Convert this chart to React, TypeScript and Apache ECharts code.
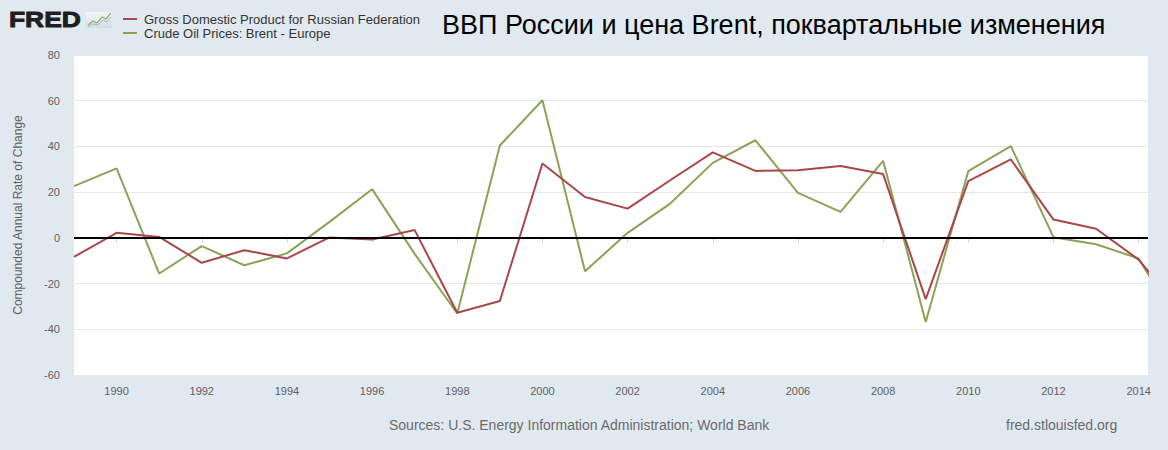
import React, { useEffect, useRef } from "react";
import * as echarts from "echarts";

const years = [
  1989, 1990, 1991, 1992, 1993, 1994, 1995, 1996, 1997, 1998, 1999, 2000, 2001,
  2002, 2003, 2004, 2005, 2006, 2007, 2008, 2009, 2010, 2011, 2012, 2013, 2014, 2015,
];
const gdpRussia = [
  -8.3, 2.2, 0.4, -10.9, -5.4, -9.0, 0.2, -0.7, 3.4, -32.8, -27.6, 32.5, 17.9,
  12.8, 25.2, 37.4, 29.3, 29.6, 31.4, 27.9, -26.8, 24.8, 34.3, 8.0, 4.0, -9.5, -32,
];
const brent = [
  22.6, 30.4, -15.6, -3.6, -12.0, -6.8, 7.0, 21.3, -7.0, -33.1, 40.4, 60.2, -14.6,
  2.2, 15.0, 32.8, 42.7, 19.7, 11.4, 33.7, -36.8, 29.2, 40.1, 0.3, -2.8, -9.0, -40,
];
const xLabelYears = [1990, 1992, 1994, 1996, 1998, 2000, 2002, 2004, 2006, 2008, 2010, 2012, 2014];
const seriesNames = [
  "Gross Domestic Product for Russian Federation",
  "Crude Oil Prices: Brent - Europe",
];
const titleText = "ВВП России и цена Brent, поквартальные изменения";
const yAxisTitle = "Compounded Annual Rate of Change";
const sourceText = "Sources: U.S. Energy Information Administration; World Bank";
const siteText = "fred.stlouisfed.org";

const RED = "#a8474a";
const GREEN = "#8aa356";
const FONT = "Arial, 'Liberation Sans', sans-serif";

export default function App() {
  const ref = useRef<HTMLDivElement>(null);
  useEffect(() => {
    const chart = echarts.init(ref.current!, null, { renderer: "svg" });
    chart.setOption({
      animation: false,
      backgroundColor: "#e1e9f0",
      textStyle: { fontFamily: FONT },
      grid: {
        left: 74,
        right: 20,
        top: 55,
        bottom: 75,
        show: true,
        backgroundColor: "#ffffff",
        borderWidth: 0,
      },
      xAxis: {
        type: "value",
        min: 1989,
        max: 2014.22,
        axisLine: { show: true, lineStyle: { color: "#ccd6eb", width: 1 } },
        axisTick: {
          show: true,
          customValues: xLabelYears,
          length: 5,
          lineStyle: { color: "#ccd6eb" },
        },
        axisLabel: {
          customValues: xLabelYears,
          formatter: (v: number) => String(v),
          color: "#606060",
          fontSize: 11,
          margin: 10,
          fontFamily: FONT,
        },
        splitLine: { show: false },
      },
      yAxis: {
        type: "value",
        min: -60,
        max: 80,
        interval: 20,
        name: yAxisTitle,
        nameLocation: "middle",
        nameGap: 50,
        nameTextStyle: { color: "#606060", fontSize: 12, fontFamily: FONT },
        axisLine: { show: false },
        axisTick: { show: false },
        axisLabel: { color: "#606060", fontSize: 11, margin: 14, fontFamily: FONT },
        splitLine: { lineStyle: { color: "#e6e6e6", width: 1 } },
      },
      series: [
        {
          name: seriesNames[0],
          type: "line",
          data: years.map((y, i) => [y, gdpRussia[i]]),
          symbol: "none",
          clip: true,
          lineStyle: { color: RED, width: 2 },
          itemStyle: { color: RED },
          z: 3,
          markLine: {
            silent: true,
            symbol: ["none", "none"],
            label: { show: false },
            lineStyle: { color: "#000000", width: 2, type: "solid" },
            data: [{ yAxis: 0 }],
          },
        },
        {
          name: seriesNames[1],
          type: "line",
          data: years.map((y, i) => [y, brent[i]]),
          symbol: "none",
          clip: true,
          lineStyle: { color: GREEN, width: 2 },
          itemStyle: { color: GREEN },
          z: 2,
        },
      ],
      graphic: [
        {
          type: "text",
          x: 9,
          y: 8,
          scaleX: 1.2,
          style: {
            text: "FRED",
            fontSize: 22,
            fontWeight: 900,
            fontFamily: FONT,
            fill: "#1e1e1e",
            stroke: "#1e1e1e",
            lineWidth: 0.9,
          },
        },
        {
          type: "rect",
          shape: { x: 86, y: 12, width: 26, height: 16 },
          style: {
            fill: new echarts.graphic.LinearGradient(0, 0, 0, 1, [
              { offset: 0, color: "#f3f6f8" },
              { offset: 1, color: "#d3dce2" },
            ]),
          },
        },
        {
          type: "polyline",
          shape: { points: [[88, 25], [93, 21], [97, 23], [102, 17], [106, 19], [111, 13]] },
          style: { stroke: "#8fb36a", lineWidth: 1.2, fill: "none" },
        },
        {
          type: "polyline",
          shape: { points: [[88, 27], [93, 24], [98, 25], [103, 20], [107, 22], [111, 17]] },
          style: { stroke: "#9ab8cf", lineWidth: 1, fill: "none" },
        },
        {
          type: "line",
          shape: { x1: 123, y1: 19, x2: 137, y2: 19 },
          style: { stroke: RED, lineWidth: 2 },
        },
        {
          type: "text",
          x: 144,
          y: 19,
          style: {
            text: seriesNames[0],
            fontSize: 13,
            fontFamily: FONT,
            fill: "#333333",
            verticalAlign: "middle",
          },
        },
        {
          type: "line",
          shape: { x1: 123, y1: 33, x2: 137, y2: 33 },
          style: { stroke: GREEN, lineWidth: 2 },
        },
        {
          type: "text",
          x: 144,
          y: 33,
          style: {
            text: seriesNames[1],
            fontSize: 13,
            fontFamily: FONT,
            fill: "#333333",
            verticalAlign: "middle",
          },
        },
        {
          type: "text",
          x: 442,
          y: 25,
          style: {
            text: titleText,
            fontSize: 27,
            fontFamily: FONT,
            fill: "#000000",
            verticalAlign: "middle",
          },
        },
        {
          type: "text",
          x: 389,
          y: 425,
          style: {
            text: sourceText,
            fontSize: 14,
            fontFamily: FONT,
            fill: "#6b6b6b",
            verticalAlign: "middle",
          },
        },
        {
          type: "text",
          x: 1006,
          y: 425,
          style: {
            text: siteText,
            fontSize: 14,
            fontFamily: FONT,
            fill: "#6b6b6b",
            verticalAlign: "middle",
          },
        },
      ],
    });
    return () => chart.dispose();
  }, []);
  return (
    <div
      ref={ref}
      style={{ position: "fixed", left: 0, top: 0, width: 1168, height: 450 }}
    />
  );
}
